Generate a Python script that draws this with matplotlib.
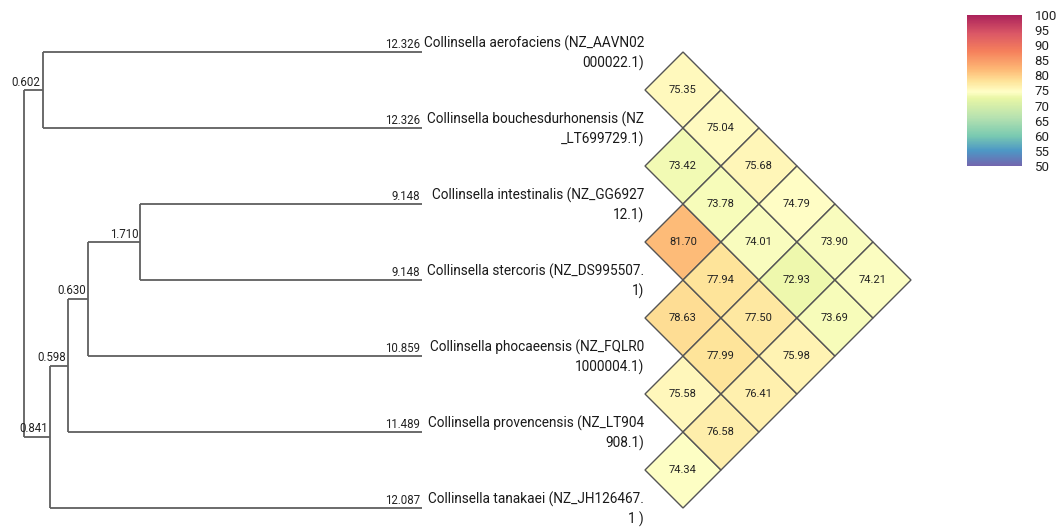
import numpy as np
import matplotlib
matplotlib.use("Agg")
import matplotlib.pyplot as plt
from matplotlib.patches import Polygon
from matplotlib.colors import LinearSegmentedColormap, Normalize, to_rgb
from matplotlib.cm import ScalarMappable

plt.rcParams['font.family'] = ['Roboto', 'DejaVu Sans']

# leaves, top to bottom
leaf_names = [
    "Collinsella aerofaciens (NZ_AAVN02\n000022.1)",
    "Collinsella bouchesdurhonensis (NZ\n_LT699729.1)",
    "Collinsella intestinalis (NZ_GG6927\n12.1)",
    "Collinsella stercoris (NZ_DS995507.\n1)",
    "Collinsella phocaeensis (NZ_FQLR0\n1000004.1)",
    "Collinsella provencensis (NZ_LT904\n908.1)",
    "Collinsella tanakaei (NZ_JH126467.\n1 )",
]
leaf_lengths = [12.326, 12.326, 9.148, 9.148, 10.859, 11.489, 12.087]

# internal nodes: name, left child, right child, branch length to parent
merges = [
    ("A", 0, 1, 0.602),
    ("E", 2, 3, 1.710),
    ("D", "E", 4, 0.630),
    ("C", "D", 5, 0.598),
    ("B", "C", 6, 0.841),
    ("root", "A", "B", 0.0),
]

# pairwise identity, listed by diagonal offset (1 = neighbours, 2 = one apart, ...)
ani_diag = {
    1: [75.35, 73.42, 81.70, 78.63, 75.58, 74.34],
    2: [75.04, 73.78, 77.94, 77.99, 76.58],
    3: [75.68, 74.01, 77.50, 76.41],
    4: [74.79, 72.93, 75.98],
    5: [73.90, 73.69],
    6: [74.21],
}

cbar_ticks = list(range(50, 101, 5))
vmin, vmax = 50, 100

# spectral stops (value, colour) for the identity scale
cmap_stops = [
    (50, "#5e4fa2"), (55, "#3288bd"), (60, "#66c2a5"), (66, "#abdda4"),
    (72.5, "#e6f598"), (74.5, "#ffffbf"), (78, "#fee08b"), (82, "#fdae61"),
    (88, "#f46d43"), (94, "#d53e4f"), (100, "#9e0142"),
]

# layout in pixels
W, H = 1059, 531
x_root, x_leaf = 24, 422
y_first, y_step = 52, 76
line_col = "#5f5f5f"

fig = plt.figure(figsize=(W / 100, H / 100), dpi=100)
ax = fig.add_axes([0, 0, 1, 1])
ax.set_xlim(0, W)
ax.set_ylim(H, 0)
ax.axis('off')

# tree geometry
n = len(leaf_names)
children = {m[0]: (m[1], m[2]) for m in merges}
blen = {i: leaf_lengths[i] for i in range(n)}
blen.update({m[0]: m[3] for m in merges})
total_depth = blen["A"] + blen[0]
scale = (x_leaf - x_root) / total_depth

pos = {}

def place(node, depth):
    d = depth + blen[node]
    x = x_root + d * scale
    if node in children:
        l, r = children[node]
        yl = place(l, d)
        yr = place(r, d)
        y = (yl + yr) / 2
        ax.plot([x, x], [yl, yr], color=line_col, lw=1.3, solid_capstyle='butt')
    else:
        y = y_first + node * y_step
    pos[node] = (x, y)
    return y

place("root", 0.0)

# horizontal branches + length labels
parent = {}
for name, (l, r) in children.items():
    parent[l] = name
    parent[r] = name
for node, (x, y) in pos.items():
    if node == "root":
        continue
    px = pos[parent[node]][0]
    ax.plot([px, x], [y, y], color=line_col, lw=1.3, solid_capstyle='butt')
    ax.text(x - 2, y - 1.5, f"{blen[node]:.3f}", ha='right', va='bottom',
            fontsize=8.3, color='#222222')

# leaf labels
for i, name in enumerate(leaf_names):
    ax.text(644, pos[i][1] + 1, name, ha='right', va='center', multialignment='right',
            fontsize=9.8, color='#1a1a1a', linespacing=1.4)

# faded spectral scale
alpha = 0.87
stops = [((v - vmin) / (vmax - vmin),
          tuple(c * alpha + (1 - alpha) for c in to_rgb(col))) for v, col in cmap_stops]
cmap = LinearSegmentedColormap.from_list("ani", stops)
norm = Normalize(vmin, vmax)

# diamond heatmap
half = y_step / 2
x_cell0 = 683
for k, vals in ani_diag.items():
    for i, v in enumerate(vals):
        j = i + k
        cy = (pos[i][1] + pos[j][1]) / 2
        cx = x_cell0 + (k - 1) * half
        verts = [(cx - half, cy), (cx, cy - half), (cx + half, cy), (cx, cy + half)]
        ax.add_patch(Polygon(verts, closed=True, facecolor=cmap(norm(v)),
                             edgecolor='#555555', lw=1.0))
        ax.text(cx, cy, f"{v:.2f}", ha='center', va='center', fontsize=8, color='#222222')

# colorbar
cax = fig.add_axes([967 / W, 1 - 166 / H, 55 / W, 151 / H])
cb = fig.colorbar(ScalarMappable(norm=norm, cmap=cmap), cax=cax, ticks=cbar_ticks)
cb.outline.set_visible(False)
cax.tick_params(length=0, pad=9, labelsize=9.5, colors='#222222')

fig.savefig("out.png", dpi=100)
